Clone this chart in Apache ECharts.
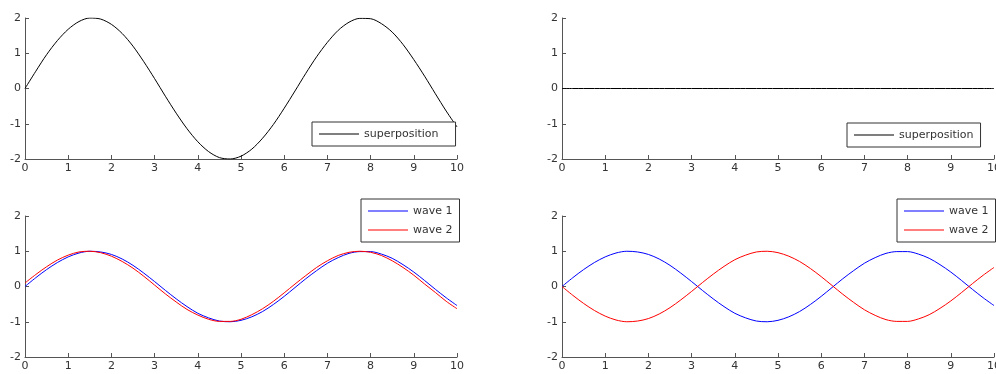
<!DOCTYPE html>
<html>
<head>
<meta charset="utf-8">
<script src="https://cdn.jsdelivr.net/npm/echarts@6/dist/echarts.min.js"></script>
<style>
  html, body { margin: 0; padding: 0; background: #fff; }
  #chart { width: 996px; height: 374px; }
</style>
</head>
<body>
<div id="chart"></div>
<script>
// sample positions along x (0 .. 10)
const xs = [0, 0.25, 0.5, 0.75, 1, 1.25, 1.5, 1.75, 2, 2.25, 2.5, 2.75, 3, 3.25, 3.5, 3.75,
  4, 4.25, 4.5, 4.75, 5, 5.25, 5.5, 5.75, 6, 6.25, 6.5, 6.75, 7, 7.25, 7.5, 7.75,
  8, 8.25, 8.5, 8.75, 9, 9.25, 9.5, 9.75, 10];

// top-left: superposition of two waves in phase
const superInPhase = [0.00, 0.49, 0.96, 1.36, 1.68, 1.90, 2.00, 1.97, 1.82, 1.56, 1.20, 0.76, 0.28,
  -0.22, -0.70, -1.14, -1.51, -1.79, -1.96, -2.00, -1.92, -1.72, -1.41, -1.02, -0.56, -0.07,
  0.43, 0.90, 1.31, 1.65, 1.88, 1.99, 1.98, 1.84, 1.60, 1.25, 0.82, 0.35, -0.15, -0.64, -1.09];

// top-right: superposition of two waves in anti-phase
const superAntiPhase = [0, 0, 0, 0, 0, 0, 0, 0, 0, 0, 0, 0, 0, 0, 0, 0, 0, 0, 0, 0, 0,
  0, 0, 0, 0, 0, 0, 0, 0, 0, 0, 0, 0, 0, 0, 0, 0, 0, 0, 0, 0];

// wave 1 (same in both lower panels)
const wave1 = [0.00, 0.25, 0.48, 0.68, 0.84, 0.95, 1.00, 0.98, 0.91, 0.78, 0.60, 0.38, 0.14,
  -0.11, -0.35, -0.57, -0.76, -0.89, -0.98, -1.00, -0.96, -0.86, -0.71, -0.51, -0.28, -0.03,
  0.22, 0.45, 0.66, 0.82, 0.94, 0.99, 0.99, 0.92, 0.80, 0.62, 0.41, 0.17, -0.08, -0.32, -0.54];

// lower-left: wave 2, slightly ahead of wave 1
const wave2Near = [0.10, 0.34, 0.56, 0.75, 0.89, 0.98, 1.00, 0.96, 0.86, 0.71, 0.52, 0.29, 0.04,
  -0.21, -0.44, -0.65, -0.81, -0.93, -0.99, -0.99, -0.93, -0.80, -0.63, -0.42, -0.18, 0.07,
  0.31, 0.54, 0.73, 0.88, 0.97, 1.00, 0.97, 0.88, 0.73, 0.54, 0.32, 0.07, -0.17, -0.42, -0.63];

// lower-right: wave 2, opposite to wave 1
const wave2Opp = [0.00, -0.25, -0.48, -0.68, -0.84, -0.95, -1.00, -0.98, -0.91, -0.78, -0.60, -0.38, -0.14,
  0.11, 0.35, 0.57, 0.76, 0.89, 0.98, 1.00, 0.96, 0.86, 0.71, 0.51, 0.28, 0.03,
  -0.22, -0.45, -0.66, -0.82, -0.94, -0.99, -0.99, -0.92, -0.80, -0.62, -0.41, -0.17, 0.08, 0.32, 0.54];

const xTicks = [0, 1, 2, 3, 4, 5, 6, 7, 8, 9, 10];
const yTicks = [-2, -1, 0, 1, 2];

const FONT = 'DejaVu Sans';
const AXIS_COLOR = '#555';
const TEXT_COLOR = '#333';

const pairs = (ys) => xs.map((x, i) => [x, ys[i]]);

const grids = [
  { left: 25, top: 18, width: 432, height: 141 },
  { left: 25, top: 216, width: 432, height: 141 },
  { left: 562, top: 18, width: 432, height: 141 },
  { left: 562, top: 216, width: 432, height: 141 }
].map(g => Object.assign({ containLabel: false, outerBoundsMode: 'none' }, g));

const axisCommon = {
  type: 'value',
  axisLine: { show: true, onZero: false, lineStyle: { color: AXIS_COLOR, width: 1 } },
  axisTick: { show: true, inside: true, length: 4, lineStyle: { color: AXIS_COLOR } },
  splitLine: { show: false },
  axisLabel: { color: TEXT_COLOR, fontFamily: FONT, fontSize: 11, margin: 4 }
};

const xAxes = grids.map((g, i) => Object.assign({}, axisCommon, {
  gridIndex: i, min: xTicks[0], max: xTicks[xTicks.length - 1], interval: 1
}));
const yAxes = grids.map((g, i) => Object.assign({}, axisCommon, {
  gridIndex: i, min: yTicks[0], max: yTicks[yTicks.length - 1], interval: 1
}));

const line = (name, ys, idx, color) => ({
  name, type: 'line', xAxisIndex: idx, yAxisIndex: idx,
  data: pairs(ys), symbol: 'none', showSymbol: false,
  smooth: 0.3,
  lineStyle: { color, width: 1 }, itemStyle: { color },
  emphasis: { disabled: true }
});

// legend entries are drawn as a plain 40px line sample next to the label
const legendCommon = {
  orient: 'vertical',
  backgroundColor: '#fff',
  borderColor: '#333',
  borderWidth: 1,
  borderRadius: 0,
  icon: 'rect',
  itemWidth: 40,
  itemHeight: 1,
  itemGap: 5,
  selectedMode: false,
  textStyle: { color: TEXT_COLOR, fontFamily: FONT, fontSize: 11, lineHeight: 14 }
};

const option = {
  animation: false,
  backgroundColor: '#fff',
  grid: grids,
  xAxis: xAxes,
  yAxis: yAxes,
  legend: [
    Object.assign({}, legendCommon, { data: ['superposition'], left: 312, top: 122, padding: [5, 17, 5, 7] }),
    Object.assign({}, legendCommon, { data: ['wave 1', 'wave 2'], left: 361, top: 199, padding: [5, 7, 5, 7] }),
    Object.assign({}, legendCommon, { data: ['superposition'], left: 847, top: 123, padding: [5, 7, 5, 7] }),
    Object.assign({}, legendCommon, { data: ['wave 1', 'wave 2'], left: 897, top: 199, padding: [5, 7, 5, 7] })
  ],
  series: [
    line('superposition', superInPhase, 0, '#000'),
    line('wave 1', wave1, 1, '#0000ff'),
    line('wave 2', wave2Near, 1, '#ff0000'),
    line('superposition', superAntiPhase, 2, '#000'),
    line('wave 1', wave1, 3, '#0000ff'),
    line('wave 2', wave2Opp, 3, '#ff0000')
  ]
};

const chart = echarts.init(document.getElementById('chart'), null, { renderer: 'canvas' });
chart.setOption(option);
</script>
</body>
</html>
